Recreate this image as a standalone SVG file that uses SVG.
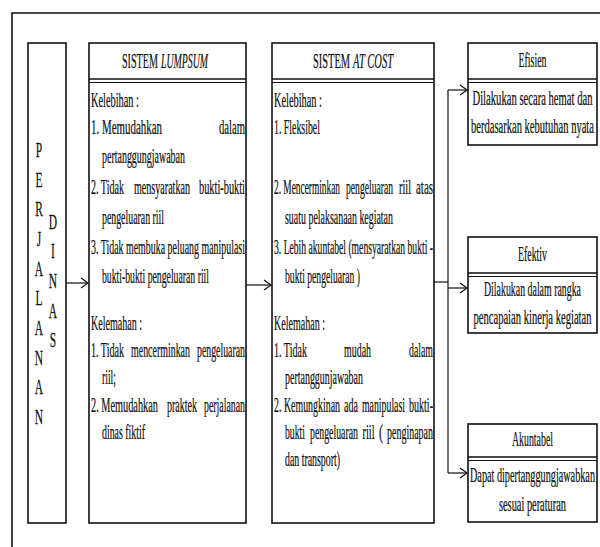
<svg xmlns="http://www.w3.org/2000/svg" width="600" height="547" viewBox="0 0 600 547">
<style>
.t{font-family:"Liberation Serif","Times New Roman",serif;font-size:20.5px;fill:#111;stroke:#111;stroke-width:0.25}
.i{font-style:italic}
.b{fill:#fff;stroke:#111;stroke-width:1.6}
.d1{stroke:#111;stroke-width:1.6}
.d2{stroke:#111;stroke-width:1.1}
.c{fill:none;stroke:#111;stroke-width:1.2}
.f{fill:none;stroke:#111;stroke-width:1.6}
</style>
<defs>
<marker id="ah" markerUnits="userSpaceOnUse" markerWidth="10" markerHeight="12" refX="8" refY="6" orient="auto">
<path d="M1,1 L8,6 L1,11" fill="none" stroke="#111" stroke-width="1.2"/>
</marker>
</defs>
<rect width="600" height="547" fill="#fff"/>
<path class="f" d="M12,547 V13 H600"/>

<g id="perjalanan-dinas">
<rect class="b" x="28" y="43" width="38" height="480"/>
<g transform="scale(0.56,1)" class="t" text-anchor="middle">
<text x="69.6" y="157">P</text>
<text x="69.6" y="187">E</text>
<text x="69.6" y="216">R</text>
<text x="69.6" y="246">J</text>
<text x="69.6" y="276">A</text>
<text x="69.6" y="305">L</text>
<text x="69.6" y="335">A</text>
<text x="69.6" y="365">N</text>
<text x="69.6" y="394">A</text>
<text x="69.6" y="424">N</text>
<text x="94.6" y="229">D</text>
<text x="94.6" y="258">I</text>
<text x="94.6" y="288">N</text>
<text x="94.6" y="318">A</text>
<text x="94.6" y="347">S</text>
</g>
</g>

<g id="lumpsum">
<rect class="b" x="89" y="43" width="157" height="480"/>
<line class="d1" x1="89" y1="79" x2="246" y2="79"/>
<line class="d2" x1="89" y1="82.5" x2="246" y2="82.5"/>
<g class="t" transform="scale(0.5,1)">
<text x="244" y="68" textLength="72" lengthAdjust="spacingAndGlyphs">SISTEM</text>
<text class="t i" x="322" y="68" textLength="94" lengthAdjust="spacingAndGlyphs">LUMPSUM</text>
<text x="182" y="107" textLength="96" lengthAdjust="spacingAndGlyphs">Kelebihan :</text>
<text x="182" y="134" textLength="142" lengthAdjust="spacingAndGlyphs">1. Memudahkan</text>
<text x="438" y="134" textLength="52" lengthAdjust="spacingAndGlyphs">dalam</text>
<text x="204" y="163" textLength="166" lengthAdjust="spacingAndGlyphs">pertanggungjawaban</text>
<text x="182" y="194" textLength="66" lengthAdjust="spacingAndGlyphs">2. Tidak</text>
<text x="268" y="194" textLength="112" lengthAdjust="spacingAndGlyphs">mensyaratkan</text>
<text x="398" y="194" textLength="92" lengthAdjust="spacingAndGlyphs">bukti-bukti</text>
<text x="204" y="224" textLength="124" lengthAdjust="spacingAndGlyphs">pengeluaran riil</text>
<text x="182" y="254" textLength="308" lengthAdjust="spacingAndGlyphs">3. Tidak membuka peluang manipulasi</text>
<text x="204" y="283" textLength="214" lengthAdjust="spacingAndGlyphs">bukti-bukti pengeluaran riil</text>
<text x="182" y="330" textLength="102" lengthAdjust="spacingAndGlyphs">Kelemahan :</text>
<text x="182" y="357" textLength="66" lengthAdjust="spacingAndGlyphs">1. Tidak</text>
<text x="262" y="357" textLength="118" lengthAdjust="spacingAndGlyphs">mencerminkan</text>
<text x="394" y="357" textLength="96" lengthAdjust="spacingAndGlyphs">pengeluaran</text>
<text x="204" y="384" textLength="28" lengthAdjust="spacingAndGlyphs">riil;</text>
<text x="182" y="412" textLength="134" lengthAdjust="spacingAndGlyphs">2. Memudahkan</text>
<text x="334" y="412" textLength="60" lengthAdjust="spacingAndGlyphs">praktek</text>
<text x="408" y="412" textLength="82" lengthAdjust="spacingAndGlyphs">perjalanan</text>
<text x="204" y="439" textLength="86" lengthAdjust="spacingAndGlyphs">dinas fiktif</text>
</g>
</g>

<g id="atcost">
<rect class="b" x="272" y="43" width="162" height="480"/>
<line class="d1" x1="272" y1="79" x2="434" y2="79"/>
<line class="d2" x1="272" y1="82.5" x2="434" y2="82.5"/>
<g class="t" transform="scale(0.5,1)">
<text x="626" y="68" textLength="74" lengthAdjust="spacingAndGlyphs">SISTEM</text>
<text class="t i" x="706" y="68" textLength="80" lengthAdjust="spacingAndGlyphs">AT COST</text>
<text x="548" y="107" textLength="96" lengthAdjust="spacingAndGlyphs">Kelebihan :</text>
<text x="548" y="134" textLength="92" lengthAdjust="spacingAndGlyphs">1. Fleksibel</text>
<text x="548" y="194" textLength="132" lengthAdjust="spacingAndGlyphs">2. Mencerminkan</text>
<text x="692" y="194" textLength="94" lengthAdjust="spacingAndGlyphs">pengeluaran</text>
<text x="798" y="194" textLength="24" lengthAdjust="spacingAndGlyphs">riil</text>
<text x="832" y="194" textLength="34" lengthAdjust="spacingAndGlyphs">atas</text>
<text x="570" y="224" textLength="216" lengthAdjust="spacingAndGlyphs">suatu pelaksanaan kegiatan</text>
<text x="548" y="254" textLength="318" lengthAdjust="spacingAndGlyphs">3. Lebih akuntabel (mensyaratkan bukti -</text>
<text x="570" y="283" textLength="150" lengthAdjust="spacingAndGlyphs">bukti pengeluaran )</text>
<text x="548" y="330" textLength="102" lengthAdjust="spacingAndGlyphs">Kelemahan :</text>
<text x="548" y="357" textLength="66" lengthAdjust="spacingAndGlyphs">1. Tidak</text>
<text x="688" y="357" textLength="54" lengthAdjust="spacingAndGlyphs">mudah</text>
<text x="818" y="357" textLength="48" lengthAdjust="spacingAndGlyphs">dalam</text>
<text x="570" y="384" textLength="156" lengthAdjust="spacingAndGlyphs">pertanggunjawaban</text>
<text x="548" y="412" textLength="132" lengthAdjust="spacingAndGlyphs">2. Kemungkinan</text>
<text x="688" y="412" textLength="28" lengthAdjust="spacingAndGlyphs">ada</text>
<text x="724" y="412" textLength="86" lengthAdjust="spacingAndGlyphs">manipulasi</text>
<text x="818" y="412" textLength="48" lengthAdjust="spacingAndGlyphs">bukti-</text>
<text x="570" y="439" textLength="40" lengthAdjust="spacingAndGlyphs">bukti</text>
<text x="620" y="439" textLength="96" lengthAdjust="spacingAndGlyphs">pengeluaran</text>
<text x="725" y="439" textLength="24" lengthAdjust="spacingAndGlyphs">riil</text>
<text x="758" y="439" textLength="8" lengthAdjust="spacingAndGlyphs">(</text>
<text x="774" y="439" textLength="92" lengthAdjust="spacingAndGlyphs">penginapan</text>
<text x="570" y="466" textLength="110" lengthAdjust="spacingAndGlyphs">dan transport)</text>
</g>
</g>

<g id="efisien">
<rect class="b" x="468" y="43" width="129" height="102"/>
<line class="d1" x1="468" y1="79" x2="597" y2="79"/>
<line class="d2" x1="468" y1="82.5" x2="597" y2="82.5"/>
<g class="t" transform="scale(0.5,1)">
<text x="1037" y="67" textLength="56" lengthAdjust="spacingAndGlyphs">Efisien</text>
<text x="945" y="105" textLength="240" lengthAdjust="spacingAndGlyphs">Dilakukan secara hemat dan</text>
<text x="942" y="133" textLength="246" lengthAdjust="spacingAndGlyphs">berdasarkan kebutuhan nyata</text>
</g>
</g>

<g id="efektiv">
<rect class="b" x="468" y="237" width="129" height="96"/>
<line class="d1" x1="468" y1="273" x2="597" y2="273"/>
<line class="d2" x1="468" y1="276.5" x2="597" y2="276.5"/>
<g class="t" transform="scale(0.5,1)">
<text x="1036" y="261" textLength="58" lengthAdjust="spacingAndGlyphs">Efektiv</text>
<text x="968" y="296" textLength="194" lengthAdjust="spacingAndGlyphs">Dilakukan dalam rangka</text>
<text x="947" y="324" textLength="236" lengthAdjust="spacingAndGlyphs">pencapaian kinerja kegiatan</text>
</g>
</g>

<g id="akuntabel">
<rect class="b" x="468" y="424" width="129" height="98"/>
<line class="d1" x1="468" y1="457" x2="597" y2="457"/>
<line class="d2" x1="468" y1="460.5" x2="597" y2="460.5"/>
<g class="t" transform="scale(0.5,1)">
<text x="1024" y="446" textLength="82" lengthAdjust="spacingAndGlyphs">Akuntabel</text>
<text x="940" y="482" textLength="250" lengthAdjust="spacingAndGlyphs">Dapat dipertanggungjawabkan</text>
<text x="998" y="511" textLength="134" lengthAdjust="spacingAndGlyphs">sesuai peraturan</text>
</g>
</g>

<g id="connectors">
<line class="c" x1="66" y1="283" x2="88" y2="283" marker-end="url(#ah)"/>
<line class="c" x1="246" y1="285" x2="271" y2="285" marker-end="url(#ah)"/>
<line class="c" x1="434" y1="282" x2="448" y2="282"/>
<line class="c" x1="448" y1="90" x2="448" y2="473"/>
<line class="c" x1="448" y1="90" x2="467" y2="90" marker-end="url(#ah)"/>
<line class="c" x1="448" y1="288" x2="467" y2="288" marker-end="url(#ah)"/>
<line class="c" x1="448" y1="473" x2="467" y2="473" marker-end="url(#ah)"/>
</g>
</svg>
